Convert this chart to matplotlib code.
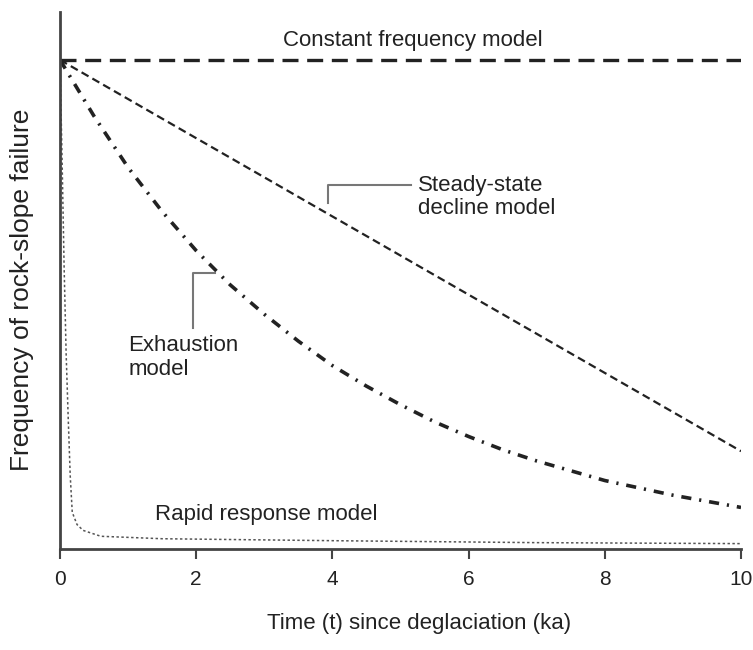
import numpy as np
import matplotlib.pyplot as plt

plt.rcParams['font.family'] = ['Liberation Sans', 'DejaVu Sans']

# values (y: relative frequency, 1 = starting level)
const_t = [0, 10]
const_y = [1.0, 1.0]

steady_t = [0, 10]
steady_y = [1.0, 0.20]

exhaust_t = [0, 0.5, 1, 1.5, 2, 2.5, 3, 3.5, 4, 4.5, 5, 5.5, 6, 6.5, 7, 8, 9, 10]
exhaust_y = [1.0, 0.885, 0.78, 0.69, 0.61, 0.54, 0.48, 0.425, 0.375, 0.333, 0.295, 0.26,
             0.23, 0.203, 0.18, 0.14, 0.11, 0.085]

rapid_t = [0, 0.03, 0.06, 0.09, 0.12, 0.15, 0.18, 0.25, 0.34, 0.6, 1.5, 4, 7, 10]
rapid_y = [1.0, 0.80, 0.58, 0.40, 0.27, 0.15, 0.075, 0.05, 0.038, 0.026, 0.021, 0.017, 0.013, 0.011]

xticks = [0, 2, 4, 6, 8, 10]

fig = plt.figure(figsize=(7.53, 6.5), dpi=100)
ax = fig.add_axes([60 / 753, 101 / 650, 681 / 753, 537 / 650])

ink = '#222222'
ax.plot(const_t, const_y, color=ink, lw=2.4, dashes=(4.8, 2.6))
ax.plot(steady_t, steady_y, color=ink, lw=1.6, dashes=(3.6, 2.0))
ax.plot(exhaust_t, exhaust_y, color=ink, lw=2.6, dashes=(2.8, 2.2, 0.6, 2.2))
ax.plot(rapid_t, rapid_y, color='#555555', lw=1.1, dashes=(1.6, 1.6))

# leader lines
lead = '#777777'
ax.plot([3.93, 3.93, 5.15], [0.708, 0.744, 0.744], color=lead, lw=1.5)
ax.plot([1.96, 1.96, 2.28], [0.452, 0.564, 0.564], color=lead, lw=1.5)

fs = 16
ax.text(3.28, 1.04, 'Constant frequency model', fontsize=fs, va='center', ha='left', color=ink)
ax.text(5.26, 0.765, 'Steady-state\ndecline model', fontsize=fs, va='top', ha='left',
        color=ink, linespacing=1.15)
ax.text(1.0, 0.437, 'Exhaustion\nmodel', fontsize=fs, va='top', ha='left',
        color=ink, linespacing=1.15)
ax.text(1.40, 0.07, 'Rapid response model', fontsize=fs, va='center', ha='left', color=ink)

ax.set_xlim(0, 10)
ax.set_ylim(0, 1.098)
ax.set_xticks(xticks)
ax.set_xticklabels([str(v) for v in xticks], fontsize=15, color=ink)
ax.set_yticks([])
ax.tick_params(axis='x', length=7, width=1.5, color='#444444', pad=8)
for s in ['top', 'right']:
    ax.spines[s].set_visible(False)
for s in ['left', 'bottom']:
    ax.spines[s].set_linewidth(2)
    ax.spines[s].set_color('#444444')

fig.text(419 / 753, 1 - 624 / 650, 'Time (t) since deglaciation (ka)', fontsize=16,
         ha='center', va='center', color=ink)
fig.text(22 / 753, 1 - 290 / 650, 'Frequency of rock-slope failure', fontsize=19,
         ha='center', va='center', rotation=90, color=ink)

fig.savefig('out.png', dpi=100)
